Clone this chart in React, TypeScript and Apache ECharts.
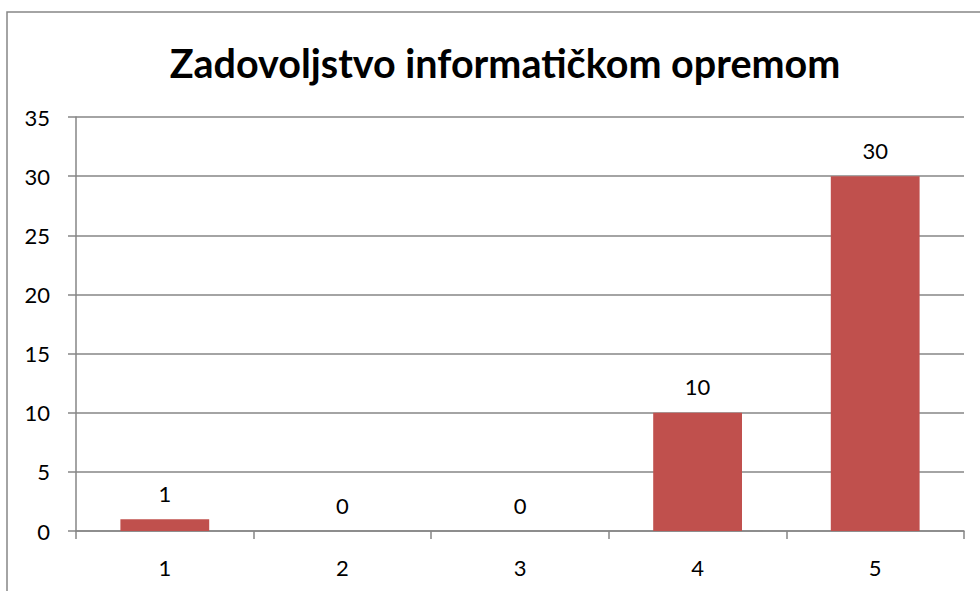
import React, { useEffect, useRef } from "react";
import * as echarts from "echarts";

const categories = ["1", "2", "3", "4", "5"];
const values = [1, 0, 0, 10, 30];
const titleText = "Zadovoljstvo informatičkom opremom";

export default function App() {
  const ref = useRef<HTMLDivElement>(null);
  useEffect(() => {
    const chart = echarts.init(ref.current!, null, { renderer: "svg" });
    const font = "Lato, 'Open Sans', sans-serif";
    chart.setOption({
      animation: false,
      backgroundColor: "#ffffff",
      graphic: [
        {
          type: "rect",
          shape: { x: 7, y: 12, width: 1000, height: 700 },
          style: { fill: "none", stroke: "#868686", lineWidth: 1.5 },
          silent: true,
          z: -1,
        },
      ],
      title: {
        text: titleText,
        left: 500,
        textAlign: "center",
        top: 37,
        textStyle: { fontFamily: font, fontWeight: "bold", fontSize: 39.5, color: "#000" },
      },
      grid: { left: 76, right: 16, top: 117, bottom: 60 },
      xAxis: {
        type: "category",
        data: categories,
        axisLine: { lineStyle: { color: "#868686", width: 1.5 } },
        axisTick: { show: true, length: 8, alignWithLabel: false, lineStyle: { color: "#868686", width: 1.5 } },
        axisLabel: { color: "#000", fontFamily: font, fontSize: 22, margin: 25 },
      },
      yAxis: {
        type: "value",
        min: 0,
        max: 35,
        interval: 5,
        axisLine: { show: true, lineStyle: { color: "#868686", width: 1.5 } },
        axisTick: { show: true, length: 8, lineStyle: { color: "#868686", width: 1.5 } },
        splitLine: { lineStyle: { color: "#868686", width: 1.5 } },
        axisLabel: { color: "#000", fontFamily: font, fontSize: 22, margin: 26 },
      },
      series: [
        {
          type: "bar",
          data: values,
          barWidth: "50%",
          itemStyle: { color: "#C0504D" },
          label: {
            show: true,
            position: "top",
            distance: 15,
            color: "#000",
            fontFamily: font,
            fontSize: 22,
          },
        },
      ],
    });
    return () => chart.dispose();
  }, []);
  return (
    <div
      ref={ref}
      style={{ position: "fixed", left: 0, top: 0, width: 980, height: 591 }}
    />
  );
}
